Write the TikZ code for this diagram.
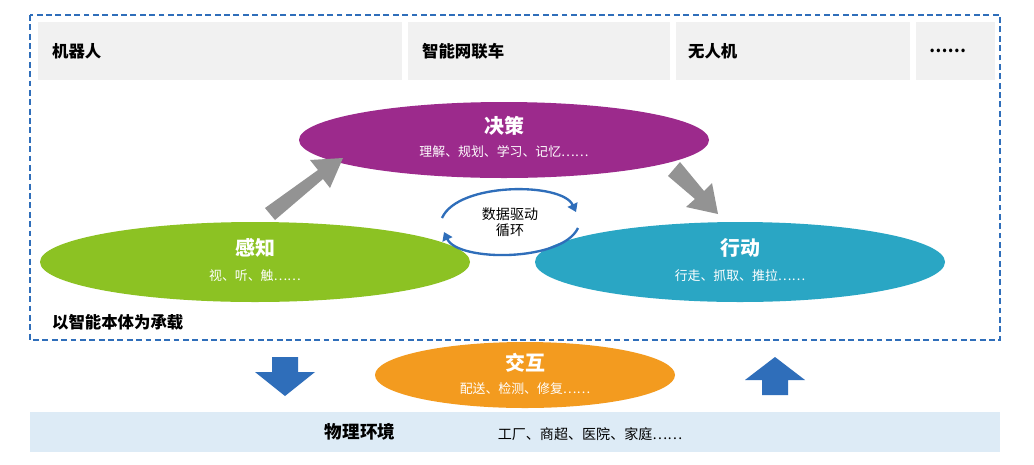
\documentclass[tikz,border=0pt]{standalone}
\usepackage{fontspec}
\setmainfont{Noto Sans CJK SC}
\usetikzlibrary{arrows.meta,shapes.geometric}
\definecolor{dblue}{HTML}{2F6EBA}
\definecolor{purp}{HTML}{9C2A8C}
\definecolor{grn}{HTML}{8CC223}
\definecolor{teal}{HTML}{2AA6C4}
\definecolor{orng}{HTML}{F39B1F}
\definecolor{band}{HTML}{DDEBF6}
\definecolor{tbox}{HTML}{F1F1F1}
\tikzset{x=0.03cm,y=-0.03cm,
 big/.style={text=white,font=\bfseries\fontsize{17}{19}\selectfont},
 small/.style={text=white,font=\fontsize{11}{13}\selectfont},
 tb/.style={fill=tbox,draw=none},
 tt/.style={font=\bfseries\fontsize{14}{16}\selectfont,anchor=west},
 loopar/.style={dblue,line width=2pt,-{Triangle[length=7pt,width=9pt]}}}
\begin{document}
\begin{tikzpicture}
\useasboundingbox (0,0) rectangle (1034,464);
\fill[white] (0,0) rectangle (1034,464);
\fill[tb] (38,22) rectangle (402,80);
\fill[tb] (408,22) rectangle (670,80);
\fill[tb] (676,22) rectangle (910,80);
\fill[tb] (916,22) rectangle (995,80);
\node[tt] (t1) at (48,51) {机器人};
\node[tt] (t2) at (418,51) {智能网联车};
\node[tt] (t3) at (684,51) {无人机};
\node[tt] (t4) at (925,51) {……};
\draw[dblue,line width=1.5pt,dash pattern=on 5pt off 3pt] (30,15) rectangle (1000,340);
\fill[purp] (504,140) ellipse [x radius=205,y radius=38];
\node[big] (jc) at (504,126) {决策};
\node[small] (jcs) at (504,152) {理解、规划、学习、记忆……};
\fill[grn] (255,262) ellipse [x radius=215,y radius=40];
\node[big] (gz) at (255,248) {感知};
\node[small] (gzs) at (255,276) {视、听、触……};
\fill[teal] (740,262) ellipse [x radius=205,y radius=40];
\node[big] (xd) at (740,248) {行动};
\node[small] (xds) at (740,276) {行走、抓取、推拉……};
\fill[gray!85] (265,208) -- (318,170) -- (310,160) -- (343,158) -- (330,188) -- (323,179) -- (275,220) -- cycle;
\fill[gray!85] (668,176) -- (695,199) -- (686,207) -- (718,214) -- (712,183) -- (704,191) -- (680,162) -- cycle;
\node[align=center,font=\fontsize{12}{14}\selectfont,inner sep=0pt] (loop) at (510,222) {数据驱动\\循环};
\draw[loopar] (442,218) .. controls (458,182) and (562,182) .. (576,212);
\draw[loopar] (578,228) .. controls (562,262) and (458,262) .. (444,232);
\node[font=\bfseries\fontsize{14}{16}\selectfont,anchor=west] (zt) at (48,322) {以智能本体为承载};
\fill[dblue] (272,357) -- (298,357) -- (298,372) -- (315,372) -- (285,396) -- (255,372) -- (272,372) -- cycle;
\fill[dblue] (762,395) -- (788,395) -- (788,380) -- (805,380) -- (775,357) -- (745,380) -- (762,380) -- cycle;
\fill[orng] (525,375) ellipse [x radius=150,y radius=33];
\node[big] (jh) at (525,363) {交互};
\node[small] (jhs) at (525,389) {配送、检测、修复……};
\fill[band] (30,412) rectangle (1000,452);
\node[font=\bfseries\fontsize{15}{17}\selectfont] (wl) at (360,432) {物理环境};
\node[font=\fontsize{12}{14}\selectfont] (cs) at (590,434) {工厂、商超、医院、家庭……};
\end{tikzpicture}
\end{document}
